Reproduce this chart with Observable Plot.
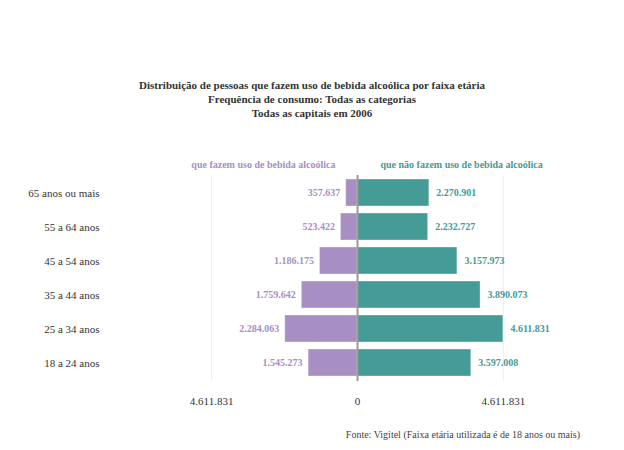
<!DOCTYPE html>
<html>
<head>
<meta charset="utf-8">
<script src="https://cdn.jsdelivr.net/npm/d3@7"></script>
<script src="https://cdn.jsdelivr.net/npm/@observablehq/plot@0.6"></script>
<style>
  body { margin: 0; background: #fff; font-family: "Liberation Serif", "Times New Roman", serif; width: 624px; }
  #title { margin-top: 78px; text-align: center; font-weight: bold; font-size: 11px; line-height: 14px; color: #333; }
  #chart svg { display: block; }
  #caption { margin-top: 17px; text-align: right; padding-right: 44px; font-size: 10px; line-height: 14px; color: #444; }
</style>
</head>
<body>
<div id="title">Distribuição de pessoas que fazem uso de bebida alcoólica por faixa etária<br>Frequência de consumo: Todas as categorias<br>Todas as capitais em 2006</div>
<div id="chart"></div>
<div id="caption">Fonte: Vigitel (Faixa etária utilizada é de 18 anos ou mais)</div>
<script>
const ages = ["18 a 24 anos", "25 a 34 anos", "35 a 44 anos", "45 a 54 anos", "55 a 64 anos", "65 anos ou mais"];
const drinkers = [1545273, 2284063, 1759642, 1186175, 523422, 357637];
const nonDrinkers = [3597008, 4611831, 3890073, 3157973, 2232727, 2270901];
const seriesLabels = ["que fazem uso de bebida alcoólica", "que não fazem uso de bebida alcoólica"];
const colors = ["#a78fc4", "#459b96"];

const maxVal = d3.max([...drinkers, ...nonDrinkers]);
const tickValues = [-maxVal, 0, maxVal];
const fmt = d3.formatLocale({thousands: ".", decimal: ",", grouping: [3], currency: ["R$", ""]}).format(",d");

const left = ages.map((a, i) => ({age: a, value: -drinkers[i], raw: drinkers[i]}));
const right = ages.map((a, i) => ({age: a, value: nonDrinkers[i], raw: nonDrinkers[i]}));

const chart = Plot.plot({
  width: 624,
  height: 291,
  marginTop: 55,
  marginBottom: 30,
  marginLeft: 109,
  marginRight: 19,
  style: {fontFamily: '"Liberation Serif", "Times New Roman", serif', fontSize: "11px", color: "#333", background: "#fff"},
  x: {domain: [-1.7 * maxVal, 1.7 * maxVal], ticks: tickValues, tickFormat: d => fmt(Math.abs(d)), tickSize: 0, tickPadding: 16, label: null},
  y: {domain: ages.slice().reverse(), paddingInner: 0.2, paddingOuter: 0.1, tickSize: 0, tickPadding: 10, label: null},
  marks: [
    Plot.ruleX([-maxVal, maxVal], {stroke: "#eee", strokeWidth: 1}),
    Plot.barX(left, {x: "value", y: "age", fill: colors[0], stroke: "#fff", strokeOpacity: 0.35}),
    Plot.barX(right, {x: "value", y: "age", fill: colors[1], stroke: "#fff", strokeOpacity: 0.35}),
    Plot.ruleX([0], {stroke: "#999", strokeWidth: 2}),
    Plot.text(left, {x: "value", y: "age", text: d => fmt(d.raw), textAnchor: "end", dx: -6, fill: colors[0], fontWeight: "bold", fontSize: 10}),
    Plot.text(right, {x: "value", y: "age", text: d => fmt(d.raw), textAnchor: "start", dx: 7, fill: colors[1], fontWeight: "bold", fontSize: 10}),
    Plot.text([seriesLabels[0]], {x: 0, frameAnchor: "top", dy: -15, dx: -22, textAnchor: "end", text: d => d, fill: colors[0], fontWeight: "bold", fontSize: 10}),
    Plot.text([seriesLabels[1]], {x: 0, frameAnchor: "top", dy: -15, dx: 23, textAnchor: "start", text: d => d, fill: colors[1], fontWeight: "bold", fontSize: 10})
  ]
});
document.getElementById("chart").appendChild(chart);
</script>
</body>
</html>
